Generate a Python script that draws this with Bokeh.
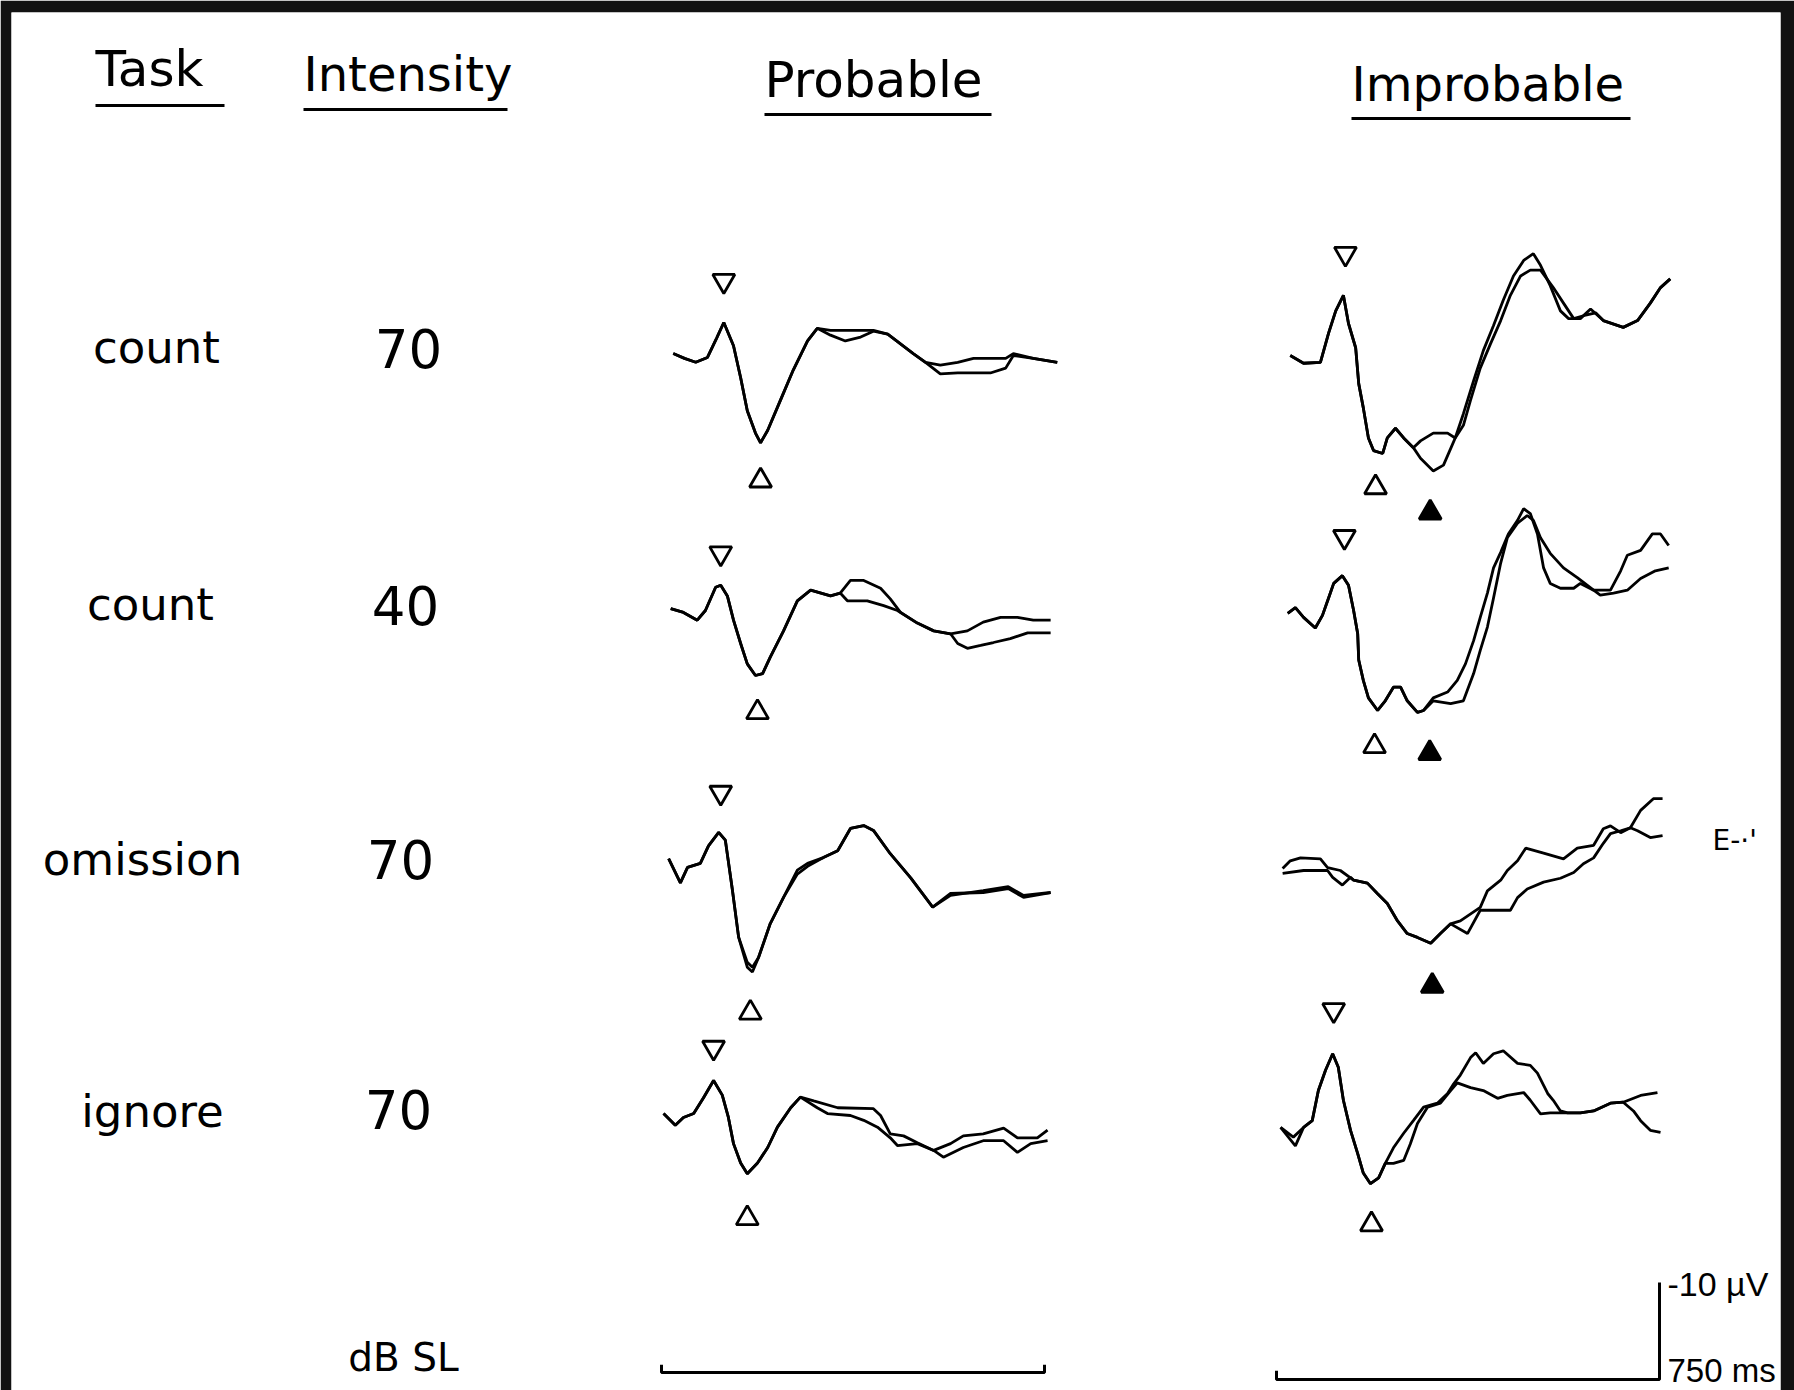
from bokeh.plotting import figure
from bokeh.models import Range1d
from bokeh.embed import file_html
from bokeh.resources import INLINE
from bokeh.core.properties import value

# ---------------- data (ms, µV; negative up) ----------------
tasks = ["count", "count", "omission", "ignore"]
intensities = ["70", "40", "70", "70"]
conditions = ["Probable", "Improbable"]

# Probable, count 70
p1_t = [23, 45, 67, 90, 108, 122, 141, 155, 168, 184, 194, 208, 233, 258, 286, 305, 331, 360, 390, 415, 443, 468, 493, 517, 546, 580, 611, 644, 674, 689, 728, 775]
p1_a = [-0.2, 0.3, 0.7, 0.2, -1.8, -3.4, -1.0, 2.3, 5.7, 8.0, 9.0, 7.7, 4.6, 1.5, -1.5, -2.8, -2.6, -2.6, -2.6, -2.6, -2.2, -1.2, -0.2, 0.7, 1.0, 0.7, 0.3, 0.3, 0.3, -0.2, 0.3, 0.7]
p1_b = [-0.2, 0.3, 0.7, 0.2, -1.8, -3.4, -1.0, 2.3, 5.7, 8.0, 9.0, 7.7, 4.6, 1.5, -1.5, -2.8, -2.1, -1.5, -1.9, -2.5, -2.2, -1.2, -0.2, 0.7, 1.9, 1.8, 1.8, 1.8, 1.3, 0.0, 0.3, 0.7]

# Probable, count 40
p2_ta = [18, 43, 70, 86, 106, 116, 129, 141, 155, 168, 184, 198, 213, 239, 266, 292, 331, 350, 370, 396, 429, 448, 468, 501, 533, 566, 599, 630, 664, 697, 728, 762]
p2_a = [-0.2, 0.2, 1.0, 0.0, -2.4, -2.6, -1.5, 1.0, 3.4, 5.5, 6.7, 6.5, 4.8, 2.1, -1.0, -2.1, -1.5, -1.8, -3.1, -3.1, -2.3, -1.2, 0.2, 1.3, 2.1, 2.4, 2.1, 1.2, 0.7, 0.7, 1.0, 1.0]
p2_tb = [18, 43, 70, 86, 106, 116, 129, 141, 155, 168, 184, 198, 213, 239, 266, 292, 331, 350, 364, 403, 435, 462, 501, 533, 566, 580, 599, 625, 650, 683, 717, 762]
p2_b = [-0.2, 0.2, 1.0, 0.0, -2.4, -2.6, -1.5, 1.0, 3.4, 5.5, 6.7, 6.5, 4.8, 2.1, -1.0, -2.1, -1.5, -1.8, -1.0, -1.0, -0.5, 0.0, 1.3, 2.1, 2.4, 3.4, 3.9, 3.6, 3.3, 2.9, 2.3, 2.3]

# Probable, omission 70
p3_t = [14, 37, 51, 76, 92, 112, 125, 139, 151, 168, 178, 190, 213, 239, 266, 286, 317, 345, 370, 396, 415, 448, 488, 531, 566, 630, 679, 709, 762]
p3_a = [-0.2, 2.3, 0.7, 0.3, -1.5, -2.9, -2.1, 3.1, 7.9, 11.0, 11.5, 10.0, 6.5, 3.8, 1.0, 0.3, -0.3, -1.0, -3.3, -3.6, -3.1, -0.7, 1.8, 4.8, 3.4, 3.3, 2.9, 3.8, 3.3]
p3_b = [-0.2, 2.3, 0.7, 0.3, -1.5, -2.9, -2.1, 3.1, 7.9, 10.5, 11.0, 10.0, 6.5, 3.8, 1.4, 0.6, -0.3, -1.0, -3.3, -3.6, -3.1, -0.7, 1.8, 4.8, 3.6, 3.1, 2.7, 3.6, 3.3]

# Probable, ignore 70
p4_ta = [4, 27, 43, 63, 82, 102, 119, 131, 141, 155, 168, 188, 208, 227, 253, 272, 298, 345, 415, 429, 448, 474, 501, 533, 566, 591, 630, 670, 697, 736, 756]
p4_a = [-0.2, 1.0, 0.2, -0.2, -1.8, -3.6, -2.1, 0.2, 2.9, 4.9, 6.0, 4.9, 3.3, 1.2, -0.8, -1.9, -1.5, -0.8, -0.7, 0.0, 1.9, 2.1, 2.8, 3.6, 2.9, 2.1, 1.9, 1.3, 2.3, 2.3, 1.5]
p4_tb = [4, 27, 43, 63, 82, 102, 119, 131, 141, 155, 168, 188, 208, 227, 253, 272, 305, 325, 370, 396, 423, 448, 462, 501, 533, 552, 591, 630, 670, 697, 723, 756]
p4_b = [-0.2, 1.0, 0.2, -0.2, -1.8, -3.6, -2.1, 0.2, 2.9, 4.9, 6.0, 4.9, 3.3, 1.2, -0.8, -1.9, -0.8, -0.2, 0.0, 0.5, 1.2, 2.3, 3.1, 2.9, 3.6, 4.3, 3.3, 2.6, 2.6, 3.8, 2.9, 2.6]

# Improbable, count 70
i1_ta = [27, 53, 86, 102, 116, 131, 141, 155, 161, 170, 180, 190, 208, 217, 233, 249, 268, 282, 307, 335, 350, 366, 386, 405, 425, 444, 464, 484, 503, 517, 536, 556, 572, 595, 615, 640, 679, 707, 732, 752, 771]
i1_a = [0.0, 0.8, 0.7, -2.3, -4.6, -6.2, -3.3, -0.8, 2.9, 5.4, 8.5, 9.8, 10.1, 8.5, 7.5, 8.5, 9.5, 8.8, 8.0, 8.0, 8.5, 6.0, 2.6, -0.5, -3.1, -5.7, -8.2, -9.8, -10.5, -9.3, -7.2, -4.6, -3.8, -3.8, -4.8, -3.6, -2.9, -3.6, -5.4, -7.0, -7.9]
i1_tb = [27, 53, 86, 102, 116, 131, 141, 155, 161, 170, 180, 190, 208, 217, 233, 249, 268, 282, 307, 327, 341, 350, 366, 380, 399, 419, 439, 458, 478, 497, 517, 542, 562, 582, 601, 625, 640, 679, 707, 732, 752, 771]
i1_b = [0.0, 0.8, 0.7, -2.3, -4.6, -6.2, -3.3, -0.8, 2.9, 5.4, 8.5, 9.8, 10.1, 8.5, 7.5, 8.5, 9.5, 10.6, 11.9, 11.3, 9.6, 8.5, 7.2, 4.6, 1.3, -1.2, -3.6, -6.2, -8.2, -8.8, -8.8, -7.0, -5.4, -3.8, -4.1, -4.4, -3.6, -2.9, -3.6, -5.4, -7.0, -7.9]

# Improbable, count 40
i2_ta = [22, 37, 53, 76, 90, 102, 112, 129, 141, 151, 159, 161, 170, 180, 198, 213, 229, 243, 256, 276, 288, 307, 335, 354, 370, 386, 399, 413, 425, 439, 454, 472, 484, 497, 511, 523, 536, 556, 582, 595, 621, 654, 674, 687, 713, 736, 752, 768]
i2_a = [0.1, -0.5, 0.5, 1.6, 0.3, -1.5, -3.0, -3.8, -2.8, -0.2, 2.2, 4.9, 7.0, 8.8, 10.1, 9.1, 7.7, 7.7, 9.1, 10.3, 10.1, 8.8, 8.2, 7.0, 5.3, 2.9, 0.5, -2.0, -4.6, -6.2, -8.1, -9.5, -10.7, -10.2, -8.1, -4.6, -3.0, -2.5, -2.5, -3.0, -2.3, -2.3, -4.3, -5.9, -6.4, -8.1, -8.1, -6.9]
i2_tb = [22, 37, 53, 76, 90, 102, 112, 129, 141, 151, 159, 161, 170, 180, 198, 213, 229, 243, 256, 276, 288, 307, 341, 366, 386, 399, 413, 425, 439, 452, 472, 491, 503, 517, 536, 562, 589, 621, 634, 660, 687, 713, 742, 768]
i2_b = [0.1, -0.5, 0.5, 1.6, 0.3, -1.5, -3.0, -3.8, -2.8, -0.2, 2.2, 4.9, 7.0, 8.8, 10.1, 9.1, 7.7, 7.7, 9.1, 10.3, 10.1, 9.1, 9.4, 9.1, 6.3, 3.9, 1.5, -1.5, -5.1, -7.7, -9.2, -10.0, -9.5, -7.7, -6.1, -4.6, -3.6, -2.3, -1.8, -2.0, -2.3, -3.5, -4.3, -4.6]

# Improbable, omission 70
i3_ta = [12, 27, 47, 86, 100, 125, 151, 178, 198, 217, 237, 256, 276, 302, 321, 341, 360, 399, 413, 439, 452, 472, 488, 523, 562, 589, 621, 640, 654, 674, 693, 713, 738, 756]
i3_a = [-0.2, -1.0, -1.3, -1.2, -0.3, 0.0, 1.0, 1.3, 2.4, 3.4, 5.2, 6.5, 6.9, 7.5, 6.5, 5.5, 5.2, 3.8, 2.1, 1.0, 0.0, -1.0, -2.3, -1.8, -1.2, -2.3, -2.6, -4.3, -4.6, -3.9, -4.4, -6.2, -7.4, -7.4]
i3_tb = [12, 53, 100, 110, 129, 145, 151, 178, 198, 217, 237, 256, 276, 302, 321, 341, 374, 399, 439, 458, 472, 491, 523, 556, 582, 601, 621, 640, 654, 674, 693, 707, 732, 756]
i3_b = [0.3, 0.0, 0.0, 0.7, 1.5, 0.7, 1.0, 1.3, 2.4, 3.4, 5.2, 6.5, 6.9, 7.5, 6.5, 5.5, 6.5, 4.1, 4.1, 4.1, 2.8, 1.9, 1.2, 0.8, 0.2, -0.7, -1.3, -2.8, -3.8, -4.1, -4.4, -4.1, -3.4, -3.6]

# Improbable, ignore 70
i4_ta = [8, 33, 53, 70, 82, 96, 110, 121, 131, 145, 159, 170, 184, 200, 213, 229, 249, 268, 288, 315, 335, 347, 360, 380, 390, 405, 425, 444, 472, 497, 511, 531, 542, 556, 570, 595, 621, 654, 679, 713, 746]
i4_a = [0.2, 1.2, 0.2, -0.5, -3.6, -5.7, -7.4, -6.0, -2.6, 0.5, 2.9, 4.9, 6.0, 5.4, 3.9, 2.3, 0.8, -0.5, -1.9, -2.3, -3.3, -4.3, -5.2, -7.0, -7.5, -6.4, -7.4, -7.7, -6.4, -6.2, -5.4, -3.3, -2.6, -1.5, -1.3, -1.3, -1.5, -2.3, -2.4, -3.1, -3.4]
i4_tb = [8, 37, 53, 70, 82, 96, 110, 121, 131, 145, 159, 170, 184, 200, 213, 229, 249, 262, 276, 296, 321, 341, 354, 380, 405, 433, 452, 484, 497, 517, 536, 570, 595, 621, 654, 679, 699, 713, 732, 752]
i4_b = [0.2, 2.1, 0.2, -0.5, -3.6, -5.7, -7.4, -6.0, -2.6, 0.5, 2.9, 4.9, 6.0, 5.4, 3.9, 3.9, 3.6, 1.9, -0.2, -1.9, -2.3, -3.6, -4.4, -3.9, -3.6, -2.8, -3.1, -3.4, -2.6, -1.2, -1.3, -1.3, -1.3, -1.5, -2.3, -2.4, -1.5, -0.5, 0.5, 0.7]

# peak markers: (row, latency ms, offset µV)
prob_open_down = [(0, 122, -7.7), (1, 116, -5.9), (2, 116, -7.0), (3, 102, -7.0)]
prob_open_up = [(0, 194, 12.9), (1, 188, 10.5), (2, 174, 15.7), (3, 168, 10.6)]
impr_open_down = [(0, 135, -10.5), (1, 133, -7.8), (3, 112, -11.9)]
impr_open_up = [(0, 194, 13.6), (1, 192, 13.8), (3, 186, 10.2)]
impr_filled_up = [(0, 301, 16.2), (1, 300, 14.5), (2, 305, 11.9)]

scale_ms = 750
scale_uv = 10

# ---------------- layout ----------------
KX = 383 / 750.0   # page px per ms
KY = 9.7           # page px per µV
FIG_W, FIG_H = 1794, 1390
BL, BT, BR, BB = 11, 12, 14, 0
FRAME_L = BL
FRAME_T = BT
FRAME_W = FIG_W - BL - BR
FRAME_H = FIG_H - BT - BB
ORIGIN = 661

def X(px):
    return (px - ORIGIN) / KX

def Y(py):
    return (py - FRAME_T) / KY

PROB_X0 = X(661)
IMPR_X0 = X(1276)
PROB_BASE = [Y(355), Y(610), Y(860), Y(1115)]
IMPR_BASE = [Y(355), Y(612), Y(870), Y(1125)]

p = figure(width=FIG_W, height=FIG_H,
           x_range=Range1d(X(FRAME_L), X(FRAME_L + FRAME_W)),
           y_range=Range1d(Y(FRAME_T + FRAME_H), Y(FRAME_T)),
           output_backend="svg", toolbar_location=None, title_location=None,
           x_axis_location=None, y_axis_location=None,
           min_border_left=BL, min_border_top=BT, min_border_right=BR, min_border_bottom=BB)
p.grid.visible = False
p.outline_line_color = None
p.border_fill_color = "#121212"
p.background_fill_color = "white"

LW = 2.8
prob = [(p1_t, p1_a, p1_t, p1_b), (p2_ta, p2_a, p2_tb, p2_b), (p3_t, p3_a, p3_t, p3_b), (p4_ta, p4_a, p4_tb, p4_b)]
impr = [(i1_ta, i1_a, i1_tb, i1_b), (i2_ta, i2_a, i2_tb, i2_b), (i3_ta, i3_a, i3_tb, i3_b), (i4_ta, i4_a, i4_tb, i4_b)]

for panels, x0, bases in ((prob, PROB_X0, PROB_BASE), (impr, IMPR_X0, IMPR_BASE)):
    for r, (ta, va, tb, vb) in enumerate(panels):
        p.line([x0 + t for t in ta], [bases[r] + v for v in va], line_color="black", line_width=LW)
        p.line([x0 + t for t in tb], [bases[r] + v for v in vb], line_color="black", line_width=LW)

def marks(lst, x0, bases, marker, fill):
    p.scatter([x0 + t for (_, t, _) in lst], [bases[r] + v for (r, _, v) in lst],
              marker=marker, size=22, fill_color=fill, line_color="black", line_width=2.8)

marks(prob_open_down, PROB_X0, PROB_BASE, "inverted_triangle", "white")
marks(prob_open_up, PROB_X0, PROB_BASE, "triangle", "white")
marks(impr_open_down, IMPR_X0, IMPR_BASE, "inverted_triangle", "white")
marks(impr_open_up, IMPR_X0, IMPR_BASE, "triangle", "white")
marks(impr_filled_up, IMPR_X0, IMPR_BASE, "triangle", "black")

FONT = value("DejaVu Sans")
NARROW = value("Liberation Sans")
SHIFT = 0.38  # renderer places the alphabetic baseline lower by this fraction of the size

def txt(xs, baselines, texts, size, align="left", font=FONT):
    ys = [Y(b - SHIFT * size) for b in baselines]
    p.text([X(x) for x in xs], ys, text=texts, text_font=font, text_font_size=f"{size}px",
           text_color="black", text_align=align, text_baseline="alphabetic")

# headers
txt([95], [87], ["Task"], 50)
txt([303], [92], ["Intensity"], 48)
txt([764], [98], [conditions[0]], 50)
txt([1351], [102], [conditions[1]], 48)
for (x1, x2, yy) in ((95, 224, 105), (303, 507, 109), (764, 991, 114), (1351, 1630, 118)):
    p.line([X(x1), X(x2)], [Y(yy), Y(yy)], line_color="black", line_width=3)

# row labels
txt([156, 150, 142, 152], [364, 621, 876, 1128], tasks, 45, "center")
txt([408, 405, 400, 398], [368, 625, 879, 1129], intensities, 53, "center")
txt([403], [1372], ["dB SL"], 39, "center")
txt([1667], [1296], ["-10 µV"], 34, font=NARROW)
txt([1667], [1383], ["750 ms"], 33, font=NARROW)
txt([1712], [851], ["E-·'"], 28)

# calibration bars
yb_p = Y(1372)
p.line([PROB_X0, PROB_X0, PROB_X0 + scale_ms, PROB_X0 + scale_ms],
       [yb_p - 0.8, yb_p, yb_p, yb_p - 0.8], line_color="black", line_width=3)
yb_i = Y(1379)
p.line([IMPR_X0, IMPR_X0, IMPR_X0 + scale_ms, IMPR_X0 + scale_ms],
       [yb_i - 0.9, yb_i, yb_i, yb_i - scale_uv], line_color="black", line_width=3)

open("out.html", "w").write(file_html(p, INLINE))
